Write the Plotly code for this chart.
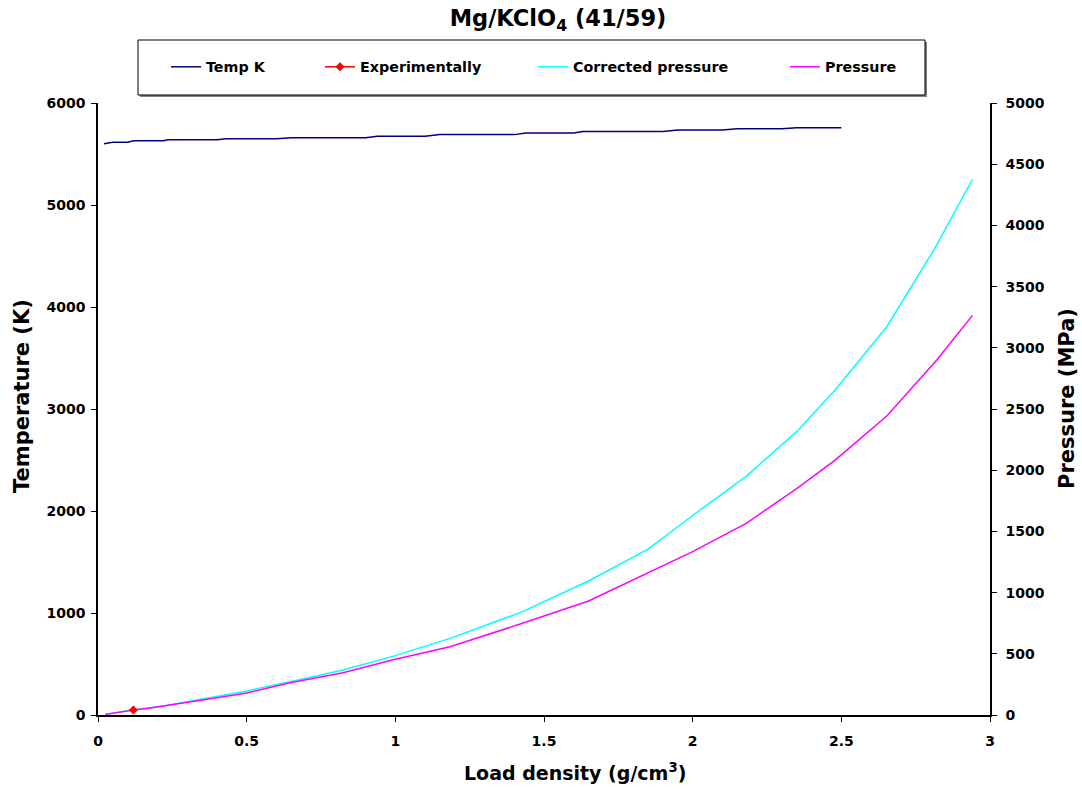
import plotly.graph_objects as go

# ---- data ----
temp_x = [0.02, 0.05, 0.10, 0.12, 0.22, 0.235, 0.40, 0.43, 0.60, 0.65, 0.90, 0.94, 1.10,
          1.15, 1.40, 1.44, 1.60, 1.63, 1.90, 1.95, 2.10, 2.15, 2.30, 2.35, 2.50]
temp_k = [5600, 5615, 5615, 5630, 5630, 5640, 5640, 5650, 5650, 5660, 5660, 5675, 5675,
          5690, 5690, 5705, 5705, 5720, 5720, 5735, 5735, 5748, 5748, 5758, 5758]

press_x = [0.024, 0.06, 0.119, 0.17, 0.231, 0.3, 0.4, 0.5, 0.646, 0.824, 1.0, 1.184, 1.42,
           1.65, 1.85, 2.0, 2.18, 2.35, 2.479, 2.653, 2.821, 2.941]
corrected_mpa = [5, 20, 42, 57, 78, 108, 150, 197, 272, 368, 485, 626, 836,
                 1095, 1355, 1630, 1950, 2315, 2655, 3172, 3840, 4377]
pressure_mpa = [5, 20, 41, 55, 76, 105, 140, 180, 264, 346, 455, 558, 743,
                931, 1165, 1335, 1566, 1850, 2083, 2443, 2900, 3265]

exp_x = [0.119]
exp_mpa = [41]

FONT = "DejaVu Sans, Arial, sans-serif"

fig = go.Figure()
fig.add_trace(go.Scatter(x=temp_x, y=temp_k, mode="lines", name="<b>Temp K</b>",
                         line=dict(color="#000080", width=1.5), legend="legend"))
fig.add_trace(go.Scatter(x=press_x, y=corrected_mpa, mode="lines", name="<b>Corrected pressure</b>",
                         line=dict(color="#00FFFF", width=1.5), yaxis="y2", legend="legend3"))
fig.add_trace(go.Scatter(x=press_x, y=pressure_mpa, mode="lines", name="<b>Pressure</b>",
                         line=dict(color="#FF00FF", width=1.5), yaxis="y2", legend="legend4"))
fig.add_trace(go.Scatter(x=exp_x, y=exp_mpa, mode="lines+markers", name="<b>Experimentally</b>",
                         line=dict(color="#FF0000", width=1.5),
                         marker=dict(symbol="diamond", size=7, color="#FF0000"),
                         yaxis="y2", legend="legend2"))

W, H = 1082, 789
L, R, T, B = 98, 990, 103, 715
def px(xp):
    return (xp - L) / (R - L)
def py(yp):
    return (B - yp) / (B - T)

leg_common = dict(orientation="h", yanchor="middle", xanchor="left", bgcolor="rgba(0,0,0,0)",
                  font=dict(family=FONT, size=14.3, color="black"), borderwidth=0)
legend_positions = [166, 320, 533, 785]

tickfont = dict(family=FONT, size=14, color="black", weight="bold")

fig.update_layout(
    width=W, height=H,
    margin=dict(l=L, r=W - R, t=T, b=H - B, pad=0),
    paper_bgcolor="white", plot_bgcolor="white",
    font=dict(family=FONT, color="black"),
    title=dict(text="<b>Mg/KClO<sub>4</sub> (41/59)</b>", x=px(558), xref="paper", xanchor="center",
               y=1 - 18 / H, yref="container", yanchor="middle",
               font=dict(family=FONT, size=22.5, color="black")),
    xaxis=dict(range=[0, 3], dtick=0.5, tick0=0, showgrid=False, zeroline=False,
               showline=True, linecolor="black", linewidth=1.5, ticks="outside", ticklen=5,
               tickcolor="black", tickfont=tickfont, ticklabelstandoff=7),
    yaxis=dict(range=[0, 6000], dtick=1000, showgrid=False, zeroline=False,
               showline=True, linecolor="black", linewidth=1.5, ticks="outside", ticklen=5,
               tickcolor="black", tickfont=tickfont, ticklabelstandoff=3),
    yaxis2=dict(range=[0, 5000], dtick=500, overlaying="y", side="right", showgrid=False,
                zeroline=False, showline=True, linecolor="black", linewidth=1.5, ticks="outside",
                ticklen=5, tickcolor="black", tickfont=tickfont, ticklabelstandoff=6),
    legend=dict(x=px(legend_positions[0]), y=py(67), **leg_common),
    legend2=dict(x=px(legend_positions[1]), y=py(67), **leg_common),
    legend3=dict(x=px(legend_positions[2]), y=py(67), **leg_common),
    legend4=dict(x=px(legend_positions[3]), y=py(67), **leg_common),
    showlegend=True,
)

# axis titles
title_font = dict(family=FONT, size=21, color="black")
fig.add_annotation(text="<b>Load density (g/cm<sup>3</sup>)</b>", xref="paper", yref="paper",
                   x=px(575), y=py(772), xanchor="center", yanchor="middle",
                   showarrow=False, font=dict(family=FONT, size=19, color="black"))
fig.add_annotation(text="<b>Temperature (K)</b>", xref="paper", yref="paper",
                   x=px(22), y=py(396), xanchor="center", yanchor="middle", textangle=-90,
                   showarrow=False, font=title_font)
fig.add_annotation(text="<b>Pressure (MPa)</b>", xref="paper", yref="paper",
                   x=px(1067), y=py(399), xanchor="center", yanchor="middle", textangle=-90,
                   showarrow=False, font=title_font)

# legend frame with shadow
fig.add_shape(type="rect", xref="paper", yref="paper",
              x0=px(140), x1=px(927), y0=py(97), y1=py(42),
              line=dict(color="#808080", width=0), fillcolor="#808080", layer="below")
fig.add_shape(type="rect", xref="paper", yref="paper",
              x0=px(138), x1=px(925), y0=py(95), y1=py(40),
              line=dict(color="black", width=1), fillcolor="white", layer="below")

fig.write_html("out.html", config={"displayModeBar": False},
               post_script="document.body.style.margin='0px';")
